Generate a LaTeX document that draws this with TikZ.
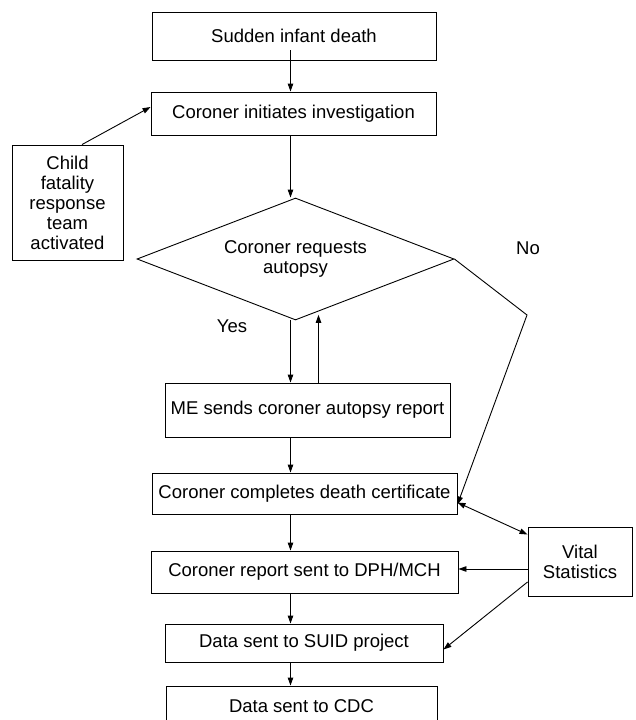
\documentclass[tikz,border=0pt]{standalone}
\usepackage{fontspec}
\setmainfont{Liberation Sans}
\usetikzlibrary{arrows.meta,shapes.geometric,calc}

\begin{document}
\begin{tikzpicture}[x=1pt,y=-1pt,line width=0.9pt,
	font=\fontsize{18.5}{20}\selectfont,
	arr/.style={-{Triangle[length=8pt,width=5.5pt]}}]
	\clip (0,0) rectangle (635,720);
	\coordinate (spine) at (290.5,0);
	\coordinate (bend) at (527,315);
	\begin{scope}[every node/.style={rectangle,draw,align=center,inner sep=0pt}]
		\node[minimum width=284pt,minimum height=48pt] (death) at (294,36) {Sudden infant death};
		\node[minimum width=285pt,minimum height=43pt] (init) at (293.5,113.5) {Coroner initiates investigation};
		\node[minimum width=111pt,minimum height=115pt] (cfrt) at (67.5,202.5) {Child\\fatality\\response\\team\\activated};
		\node[minimum width=285pt,minimum height=54pt] (me) at (307.5,410) {ME sends coroner autopsy report};
		\node[minimum width=305pt,minimum height=41pt] (cert) at (304.5,493.5) {Coroner completes death certificate};
		\node[minimum width=307pt,minimum height=42pt] (dph) at (304.5,572) {Coroner report sent to DPH/MCH};
		\node[minimum width=278pt,minimum height=38pt] (suid) at (304,643) {Data sent to SUID project};
		\node[minimum width=271pt,minimum height=40pt] (cdc) at (301.5,706) {Data sent to CDC};
		\node[minimum width=104pt,minimum height=69pt] (vital) at (580,561.5) {Vital\\Statistics};
	\end{scope}
	\node[diamond,draw,aspect=2.6,inner sep=0pt,minimum width=317pt,minimum height=122pt,align=center] (req) at (295.5,259) {Coroner requests\\autopsy};
	\node (yes) at (232,326) {Yes};
	\node (no) at (528,248) {No};
	\begin{scope}[every edge/.style={draw,arr}]
		\path (death.south -| spine) edge[shorten <=-10pt] (init.north -| spine);
		\path (init.south -| spine) edge (req.north -| spine);
		\path ([xshift=14.5pt]cfrt.north) edge ([yshift=6.5pt]init.west);
		\path (req.south -| spine) edge (me.north -| spine);
		\path ([xshift=11pt]me.north) edge[shorten >=3pt] ([xshift=11pt]me.north |- {$(req.south)!0.14!(req.east)$});
		\path (me.south -| spine) edge (cert.north -| spine);
		\path (cert.south -| spine) edge (dph.north -| spine);
		\path (dph.south -| spine) edge (suid.north -| spine);
		\path (suid.south -| spine) edge (cdc.north -| spine);
		\path ([yshift=-7.5pt]vital.west) edge ([yshift=-7.5pt]vital.west -| dph.east);
		\path ([yshift=-20.5pt]vital.west) edge ([yshift=-6.5pt]suid.east);
	\end{scope}
	\draw[arr] (req.east) -- (bend) -- ([yshift=-11pt]cert.east);
	\draw[{Triangle[length=8pt,width=5.5pt]}-{Triangle[length=8pt,width=5.5pt]}] ([yshift=-9pt]cert.east) -- ([yshift=-8pt]vital.north west);
\end{tikzpicture}
\end{document}
